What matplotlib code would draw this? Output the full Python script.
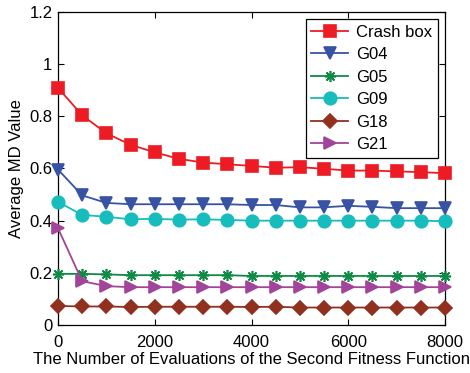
import matplotlib
matplotlib.use('Agg')
import matplotlib.pyplot as plt
import numpy as np

plt.rcParams['font.family'] = ['Liberation Sans', 'DejaVu Sans']

# evaluaciones de la segunda función de fitness
evals = [0, 500, 1000, 1500, 2000, 2500, 3000, 3500, 4000,
         4500, 5000, 5500, 6000, 6500, 7000, 7500, 8000]

crash_box = [0.909, 0.804, 0.735, 0.691, 0.662, 0.637, 0.623, 0.616, 0.610,
             0.603, 0.605, 0.599, 0.592, 0.592, 0.589, 0.586, 0.582]
g04 = [0.596, 0.497, 0.468, 0.463, 0.463, 0.463, 0.463, 0.463, 0.460,
       0.460, 0.451, 0.451, 0.457, 0.453, 0.448, 0.448, 0.448]
g05 = [0.196, 0.196, 0.194, 0.191, 0.191, 0.191, 0.191, 0.191, 0.188,
       0.188, 0.188, 0.188, 0.188, 0.188, 0.188, 0.188, 0.188]
g09 = [0.472, 0.422, 0.415, 0.405, 0.407, 0.404, 0.405, 0.403, 0.400,
       0.400, 0.400, 0.400, 0.400, 0.400, 0.400, 0.400, 0.398]
g18 = [0.073, 0.071, 0.071, 0.069, 0.070, 0.070, 0.070, 0.070, 0.069,
       0.070, 0.067, 0.067, 0.067, 0.067, 0.067, 0.067, 0.067]
g21 = [0.371, 0.168, 0.149, 0.145, 0.145, 0.145, 0.145, 0.145, 0.145,
       0.145, 0.145, 0.145, 0.145, 0.145, 0.145, 0.145, 0.145]

series = [
    ('Crash box', crash_box, '#ed1c24', 's', 9),
    ('G04', g04, '#3953a4', 'v', 9),
    ('G05', g05, '#0f8a44', (8, 2, 0), 8),
    ('G09', g09, '#17bcbc', 'o', 9),
    ('G18', g18, '#91301e', 'D', 7.5),
    ('G21', g21, '#a2449a', '>', 9),
]

fig = plt.figure(figsize=(4.7, 3.73), dpi=100)
ax = fig.add_axes([58/470, 1 - 325/373, 387/470, 313/373])

for nombre, valores, color, marca, ms in series:
    ax.plot(evals, valores, color=color, marker=marca, markersize=ms,
            markeredgewidth=1.2, linewidth=1.3, label=nombre, clip_on=False,
            zorder=3)

ax.set_xlim(0, 8000)
ax.set_ylim(0, 1.2)
ax.set_xticks([0, 2000, 4000, 6000, 8000])
ax.set_yticks([0, 0.2, 0.4, 0.6, 0.8, 1.0, 1.2])
ax.set_yticklabels(['0', '0.2', '0.4', '0.6', '0.8', '1', '1.2'])
ax.tick_params(direction='in', top=True, right=True, labelsize=12, length=4)
ax.tick_params(axis='x', pad=7)
ax.tick_params(axis='y', pad=4)
for s in ax.spines.values():
    s.set_linewidth(0.9)

ax.set_xlabel('The Number of Evaluations of the Second Fitness Function',
              fontsize=12, labelpad=2)
ax.set_ylabel('Average MD Value', fontsize=12, labelpad=4)

leg = ax.legend(loc='upper right', fontsize=12, fancybox=False,
                edgecolor='black', framealpha=1, borderaxespad=0.4,
                handlelength=2.2, labelspacing=0.45, borderpad=0.35,
                handletextpad=0.5)
leg.get_frame().set_linewidth(0.9)
leg.set_zorder(5)

plt.savefig('out.png', dpi=100)
